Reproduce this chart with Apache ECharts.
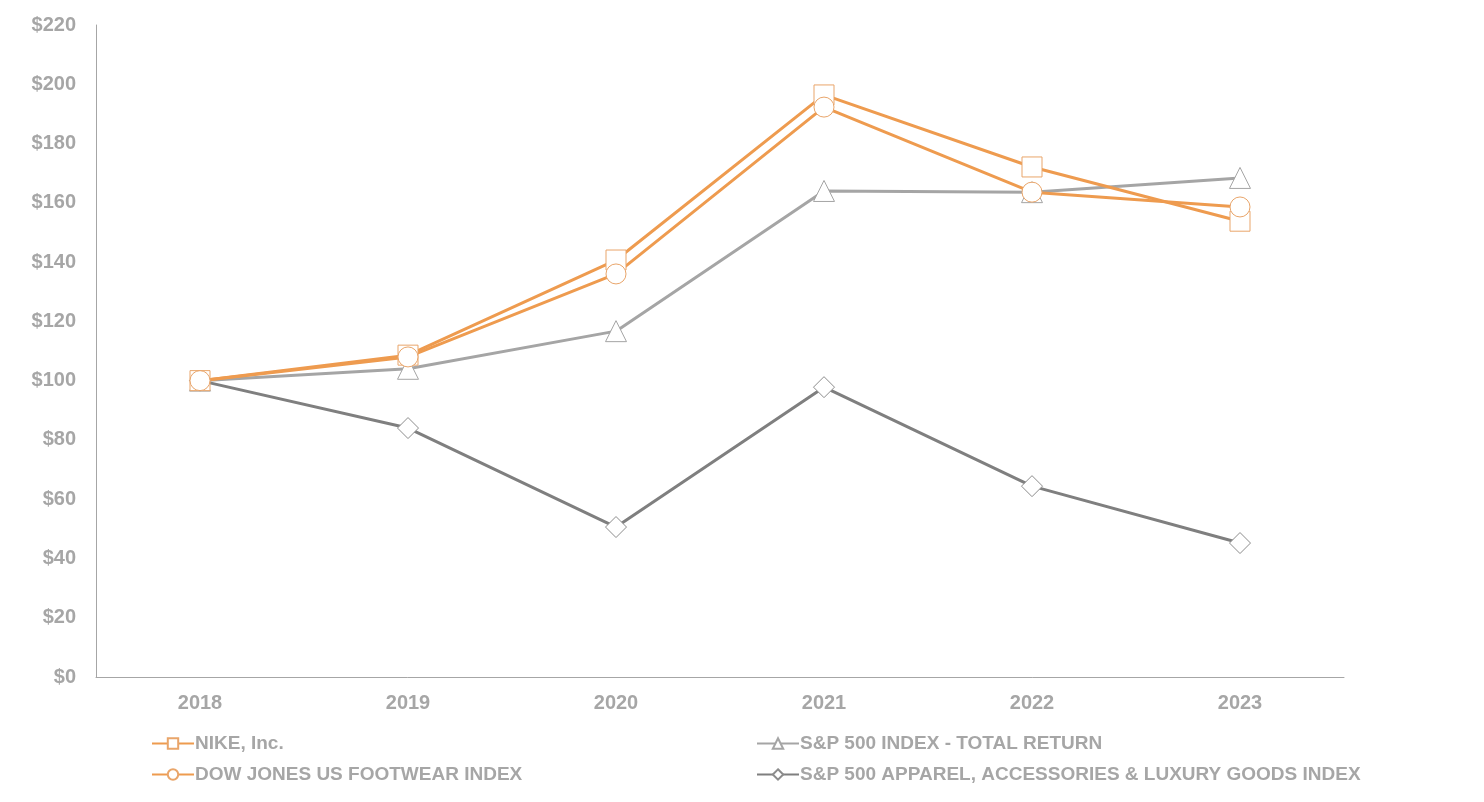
<!DOCTYPE html>
<html>
<head>
<meta charset="utf-8">
<script src="https://cdn.jsdelivr.net/npm/echarts@6/dist/echarts.min.js"></script>
<style>
html,body{margin:0;padding:0;background:#fff;}
#c{width:1484px;height:802px;}
</style>
</head>
<body>
<div id="c"></div>
<script>
var years = ['2018','2019','2020','2021','2022','2023'];
var nike = [100, 108.6, 140.7, 196.4, 172.1, 153.8];
var djFootwear = [100, 108.0, 136.0, 192.3, 163.6, 158.6];
var sp500 = [100, 104.0, 116.7, 164.0, 163.6, 168.4];
var spApparel = [100, 84.0, 50.6, 97.8, 64.4, 45.2];
var yTicks = [0, 20, 40, 60, 80, 100, 120, 140, 160, 180, 200, 220];

var ORANGE = '#EE9B4F';
var ORANGE_MK = '#E9A56A';
var GREY = '#A5A5A5';
var DGREY = '#7F7F7F';
var TXT = '#A6A6A6';
var FONT = '"Liberation Sans", Arial, sans-serif';

function ser(name, data, color, mkColor, symbol, size) {
  return {
    name: name, type: 'line', data: data,
    symbol: symbol, symbolSize: size, showAllSymbol: true,
    lineStyle: {color: color, width: 3},
    itemStyle: {color: '#fff', borderColor: mkColor, borderWidth: 1},
    emphasis: {disabled: true},
    animation: false
  };
}

var chart = echarts.init(document.getElementById('c'));
var legendCommon = {
  orient: 'vertical', itemWidth: 42, itemHeight: 13, itemGap: 12,
  textStyle: {color: TXT, fontSize: 19, fontWeight: 'bold', fontFamily: FONT, padding: [0, 0, 0, -4]}
};
chart.setOption({
  backgroundColor: '#fff',
  grid: {left: 96, right: 140, top: 25, bottom: 125, containLabel: false},
  legend: [
    Object.assign({}, legendCommon, {left: 146, top: 729, data: ['NIKE, Inc.', 'DOW JONES US FOOTWEAR INDEX']}),
    Object.assign({}, legendCommon, {left: 751, top: 729, data: ['S&P 500 INDEX - TOTAL RETURN', 'S&P 500 APPAREL, ACCESSORIES & LUXURY GOODS INDEX']})
  ],
  xAxis: {
    type: 'category', data: years, boundaryGap: true,
    axisLine: {lineStyle: {color: '#A6A6A6', width: 1}},
    axisTick: {show: false},
    axisLabel: {color: TXT, fontSize: 20, fontWeight: 'bold', fontFamily: FONT, margin: 16},
    splitLine: {show: false}
  },
  yAxis: {
    type: 'value', min: 0, max: 220, interval: 20,
    axisLine: {show: true, lineStyle: {color: '#A6A6A6', width: 1}},
    axisTick: {show: false},
    splitLine: {show: false},
    axisLabel: {color: TXT, fontSize: 20, fontWeight: 'bold', fontFamily: FONT, margin: 20,
      formatter: function (v) { return yTicks.indexOf(v) >= 0 ? '$' + v : ''; }}
  },
  series: [
    ser('S&P 500 APPAREL, ACCESSORIES & LUXURY GOODS INDEX', spApparel, DGREY, '#8C8C8C', 'diamond', 21),
    ser('S&P 500 INDEX - TOTAL RETURN', sp500, GREY, '#A5A5A5', 'triangle', 21),
    ser('NIKE, Inc.', nike, ORANGE, ORANGE_MK, 'rect', 20),
    ser('DOW JONES US FOOTWEAR INDEX', djFootwear, ORANGE, ORANGE_MK, 'circle', 20)
  ]
});
</script>
</body>
</html>
